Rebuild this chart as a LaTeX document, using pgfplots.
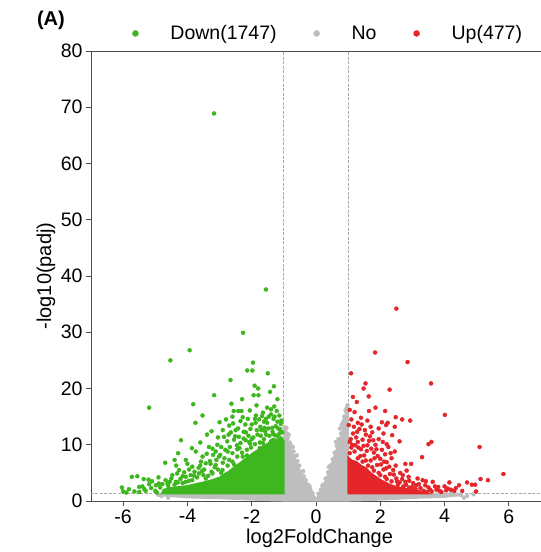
\documentclass[border=0pt]{standalone}
\usepackage{pgfplots}
\pgfplotsset{compat=1.18}
\usepackage{fontspec}
\setmainfont{Liberation Sans}
\definecolor{dgreen}{RGB}{62,182,30}
\definecolor{ured}{RGB}{228,38,42}
\definecolor{ngray}{RGB}{190,190,190}
\definecolor{lgray}{RGB}{170,170,170}
\pgfplotsset{dotleg/.style={legend image code/.code={\path[draw=none,fill=none] (-3pt,-3pt) rectangle (35pt,3pt); \draw[##1] plot coordinates {(0pt,0pt)};}}}
\begin{document}
\begin{tikzpicture}
\path[use as bounding box] (-91pt,-51pt) rectangle (450pt,501pt);
\begin{axis}[
  at={(0pt,0pt)}, anchor=south west,
  scale only axis, width=450pt, height=450pt,
  xmin=-7, xmax=7, ymin=0, ymax=80,
  xtick={-6,-4,-2,0,2,4,6}, ytick={0,10,20,30,40,50,60,70,80},
  tick pos=left, tick align=outside, major tick length=5pt,
  axis line style={draw=black!70, line width=0.8pt},
  every tick/.style={black!70, line width=0.8pt},
  tick label style={font=\fontsize{19.5}{20}\selectfont, black},
  /pgf/number format/assume math mode=true,
  xlabel={log2FoldChange}, ylabel={-log10(padj)},
  label style={font=\fontsize{20}{22}\selectfont},
  xlabel style={at={(axis description cs:0.508,-0.082)}, anchor=center},
  ylabel style={at={(axis description cs:-0.1,0.5)}, anchor=center},
  legend columns=3,
  legend style={draw=none, fill=none, at={(axis description cs:0.525,1.039)}, anchor=center,
    font=\fontsize{19.5}{20}\selectfont, column sep=0pt, nodes={inner sep=0pt},
    /tikz/every even column/.append style={column sep=37pt}},
  clip mode=individual,
]
\addlegendimage{only marks, mark=*, mark size=3pt, color=dgreen, dotleg}
\addlegendentry{Down(1747)}
\addlegendimage{only marks, mark=*, mark size=3pt, color=ngray, dotleg}
\addlegendentry{No}
\addlegendimage{only marks, mark=*, mark size=3pt, color=ured, dotleg}
\addlegendentry{Up(477)}

% threshold lines
\addplot[lgray, line width=0.8pt, dash pattern=on 3pt off 1.5pt, forget plot] coordinates {(-1,0) (-1,80)};
\addplot[lgray, line width=0.8pt, dash pattern=on 3pt off 1.5pt, forget plot] coordinates {(1,0) (1,80)};
\addplot[lgray, line width=0.8pt, dash pattern=on 3pt off 1.5pt, forget plot] coordinates {(-7,1.3) (7,1.3)};

% gray dense cloud
\addplot[fill=ngray, draw=ngray, line width=1.5pt, mark=none, forget plot] coordinates {
(-4.7,1.35) (-1.0,1.35) (-1.0,12.6) (-0.95,12.2) (-0.9,11.0) (-0.83,10.0) (-0.75,8.8) (-0.66,7.6)
(-0.58,6.5) (-0.5,5.4) (-0.42,4.5) (-0.34,3.6) (-0.26,2.8) (-0.18,2.0) (-0.1,1.3) (-0.03,0.7)
(0,0.4) (0.04,0.7) (0.1,1.3) (0.18,2.2) (0.26,3.2) (0.34,4.3) (0.42,5.6) (0.5,6.9) (0.58,8.2)
(0.66,9.6) (0.74,11.0) (0.82,12.5) (0.9,14.0) (0.96,15.5) (1.0,16.2) (1.0,1.35) (4.4,1.35)
(4.5,1.0) (4.0,0.7) (3.0,0.5) (2.0,0.2) (1.2,0.05) (0,0) (-1.2,0.05) (-2.0,0.2) (-3.0,0.45)
(-4.0,0.6) (-4.7,0.9)} -- cycle;
\addplot[only marks, mark=*, mark size=2pt, color=ngray, forget plot] coordinates {
(-0.98,13.1) (-0.95,12.3) (-0.9,11.9) (-0.88,11.2) (-0.82,10.4) (-0.78,9.9) (-0.7,8.8) (-0.65,8.0)
(-0.58,7.1) (-0.52,6.3) (-0.45,5.2) (-0.38,4.4) (-0.32,3.7) (-0.25,2.9) (-0.18,2.1) (-0.12,1.5)
(0.08,1.3) (0.15,2.0) (0.22,2.9) (0.3,4.0) (0.38,5.1) (0.45,6.3) (0.52,7.4) (0.58,8.6) (0.65,9.8)
(0.7,11.0) (0.78,12.0) (0.84,13.4) (0.9,14.5) (0.95,15.7) (0.98,17.0) (0.92,16.2) (0.88,15.0)
(0.75,12.9) (-0.96,12.8) (-4.8,0.9) (-4.9,1.1) (-4.5,1.2) (4.5,1.1) (4.7,0.9) (4.9,1.2)
(-0.92,13.0) (-0.85,11.8) (0.96,16.6) (0.86,14.2) (-0.6,8.1) (-0.4,5.3) (0.62,10.5) (0.4,6.0)
(-0.72,9.6) (0.8,13.6) (-0.2,2.6) (0.2,2.7) (-4.3,1.4) (4.2,1.45) (-4.6,0.6) (4.6,0.6)};

% green dense cloud
\addplot[fill=dgreen, draw=dgreen, line width=1.5pt, mark=none, forget plot] coordinates {
(-1.0,1.3) (-1.0,10.6) (-1.08,11.4) (-1.2,10.9) (-1.35,11.1) (-1.5,10.2) (-1.65,9.8) (-1.8,9.1)
(-1.95,8.6) (-2.1,7.9) (-2.25,7.3) (-2.4,6.6) (-2.55,6.0) (-2.7,5.3) (-2.85,4.8) (-3.0,4.2)
(-3.2,3.8) (-3.45,3.4) (-3.7,3.1) (-4.0,2.7) (-4.3,2.5) (-4.6,2.3) (-4.75,2.0) (-4.8,1.3)} -- cycle;
\addplot[only marks, mark=*, mark size=2pt, color=dgreen, forget plot] coordinates {
(-3.17,68.9) (-1.56,37.6) (-2.27,29.9) (-3.93,26.8) (-4.53,25.0) (-1.96,24.6) (-2.14,23.2)
(-1.98,23.2) (-1.50,22.7) (-2.66,21.5) (-1.91,20.5) (-1.80,20.0) (-1.31,20.4) (-1.43,19.4)
(-3.17,18.8) (-1.94,18.8) (-1.79,18.8) (-1.20,18.1) (-2.30,18.1) (-5.19,16.6) (-3.82,17.2)
(-2.63,17.3) (-1.52,16.6) (-1.40,16.3) (-2.56,16.0) (-2.42,16.0) (-2.32,16.0) (-3.53,15.2)
(-3.75,13.9) (-1.09,13.7) (-3.39,11.8) (-4.20,10.8) (-4.29,8.5) (-4.69,6.8) (-3.86,9.4)
(-5.73,4.3) (-5.56,4.4) (-6.04,2.4) (-5.82,2.1) (-5.36,3.9) (-5.21,3.8) (-5.10,3.5)
(-2.06,16.1) (-1.87,15.2) (-1.65,15.7) (-1.77,14.5) (-1.56,14.6) (-1.40,15.4) (-1.29,15.0)
(-1.14,15.2) (-2.80,14.5) (-2.60,15.0) (-2.35,14.2) (-2.20,13.6) (-2.04,12.8) (-1.88,13.9)
(-1.73,13.2) (-1.52,13.9) (-1.36,13.0) (-1.20,14.1) (-2.50,12.6) (-2.86,11.4) (-2.65,12.2)
(-2.40,11.4) (-2.19,10.8) (-3.07,10.0) (-2.76,10.6) (-3.12,8.8) (-3.33,9.6) (-3.53,7.9)
(-3.74,8.8) (-4.05,7.3) (-3.43,6.7) (-3.12,6.4) (-3.85,6.1) (-3.64,4.9) (-4.26,5.5) (-4.47,4.6)
(-4.05,4.3) (-4.68,3.7) (-4.89,3.1) (-4.36,3.4) (-3.85,3.7) (-3.43,4.0) (-3.22,4.9) (-2.91,5.5)
(-2.70,7.3) (-2.60,8.5) (-2.38,9.4) (-2.28,7.9) (-3.02,7.9) (-5.19,3.0) (-4.98,2.8) (-5.50,2.5)
(-5.34,2.1) (-5.13,2.3)
(-1.05,12.2) (-1.15,11.9) (-1.28,11.7) (-1.45,11.6) (-1.62,11.0) (-1.75,10.4) (-1.9,10.1)
(-2.02,9.5) (-2.15,9.1) (-2.3,8.6) (-2.45,7.9) (-2.6,7.0) (-2.75,6.3) (-2.9,6.8) (-3.05,5.6)
(-3.25,5.2) (-3.5,4.6) (-3.7,4.2) (-3.95,3.6) (-4.15,3.2) (-4.4,2.9) (-4.6,2.7) (-4.85,2.4)
(-5.0,1.8) (-4.95,1.5) (-1.12,12.8) (-1.35,12.3) (-1.58,12.4) (-1.82,11.8) (-1.7,12.6)
(-2.1,11.6) (-2.35,10.3) (-2.55,10.9) (-2.95,9.6) (-3.2,8.2) (-3.3,7.1) (-3.6,6.3) (-4.1,5.1)
(-4.35,6.3) (-3.95,5.6) (-2.0,11.0) (-1.25,13.3) (-1.6,13.0) (-2.25,12.3) (-2.75,8.8)
(-3.15,6.0) (-4.55,3.4) (-5.3,1.8) (-5.65,1.7) (-4.7,1.6)
(-1.08,14.3) (-1.18,12.9) (-1.22,16.0) (-1.32,14.6) (-1.33,11.9) (-1.48,12.9) (-1.47,15.0)
(-1.55,11.8) (-1.62,14.1) (-1.68,15.1) (-1.72,11.6) (-1.84,12.6) (-1.9,14.6) (-1.95,11.3)
(-2.0,13.6) (-2.08,10.5) (-2.12,14.6) (-2.18,12.2) (-2.25,11.1) (-2.28,14.9) (-2.42,12.9)
(-2.46,9.9) (-2.52,11.5) (-2.58,13.8) (-2.68,9.6) (-2.72,11.8) (-2.82,9.1) (-2.9,12.6)
(-2.98,8.2) (-3.05,11.3) (-3.1,7.3) (-3.22,9.3) (-3.28,6.6) (-3.4,8.4) (-3.48,5.6) (-3.58,7.0)
(-3.65,5.9) (-3.78,5.2) (-3.9,4.6) (-4.0,6.6) (-4.15,4.4) (-4.22,3.9) (-4.32,4.9) (-4.5,4.0)
(-4.62,3.1) (-4.78,3.0) (-4.05,3.4) (-3.35,4.5) (-2.95,5.0) (-2.55,6.5) (-2.15,8.1) (-1.75,9.4)
(-1.4,10.6) (-1.2,11.5) (-1.1,12.4) (-2.85,7.6) (-2.45,9.2) (-2.05,10.2) (-1.65,10.3)
(-3.55,5.3) (-3.8,4.5) (-4.3,3.3) (-1.3,16.8) (-1.85,17.0) (-2.7,13.4) (-3.0,14.0) (-3.25,12.4)
(-3.6,10.4) (-4.4,7.3) (-4.9,4.2) (-5.4,2.6) (-5.9,1.5) (-5.5,1.6) (-6.0,1.7)};

% red dense cloud
\addplot[fill=ured, draw=ured, line width=1.5pt, mark=none, forget plot] coordinates {
(1.0,1.3) (1.0,7.8) (1.12,7.2) (1.25,7.0) (1.4,6.3) (1.55,5.9) (1.7,5.0) (1.85,4.4) (2.0,3.8)
(2.2,3.2) (2.4,2.7) (2.7,2.3) (3.0,2.0) (3.3,1.7) (3.5,1.3)} -- cycle;
\addplot[only marks, mark=*, mark size=2pt, color=ured, forget plot] coordinates {
(2.50,34.2) (1.84,26.4) (2.85,24.7) (3.58,20.9) (1.09,22.7) (1.54,20.9) (1.48,20.0) (2.29,19.8)
(1.64,18.6) (1.27,17.6) (1.85,16.6) (2.15,16.0) (4.01,15.3) (2.48,14.9) (2.68,14.5) (2.93,14.3)
(2.23,13.9) (2.18,13.5) (2.45,13.2) (2.37,11.7) (3.59,10.5) (3.50,10.1) (5.09,9.6) (2.20,10.1)
(3.30,7.8) (2.78,6.6) (2.96,6.6) (5.83,4.8) (5.12,3.9) (5.35,3.7) (4.70,3.3) (4.85,2.9) (4.95,2.9)
(4.15,3.3) (4.45,2.8) (4.98,1.7) (4.10,2.2) (3.63,3.4) (3.42,3.5) (3.32,3.7) (3.16,4.0) (2.88,4.3)
(2.78,3.4) (3.75,2.0) (3.85,1.8) (4.05,1.9) (4.2,2.0) (4.3,1.8)
(1.05,8.5) (1.1,9.5) (1.2,8.8) (1.3,10.5) (1.4,9.2) (1.5,8.1) (1.6,9.9) (1.7,7.2) (1.8,8.6)
(1.9,6.4) (2.0,7.5) (2.1,5.6) (2.2,6.9) (2.3,4.8) (2.4,5.5) (2.5,4.0) (2.6,3.3) (2.7,4.6)
(2.8,2.9) (2.9,3.6) (3.0,2.5) (3.1,2.1) (3.2,3.0) (3.35,1.8) (3.5,2.4) (3.6,1.7) (3.8,2.5)
(3.9,1.6) (1.15,12.0) (1.25,11.3) (1.35,12.8) (1.45,10.9) (1.55,11.8) (1.65,10.7) (1.75,12.2)
(1.85,10.0) (1.95,11.0) (2.05,9.1) (2.15,8.3) (2.25,9.6) (2.35,7.6) (2.45,8.8) (1.1,14.5)
(1.2,15.8) (1.3,13.9) (1.4,14.8) (1.6,14.3) (1.7,13.2) (1.95,12.9) (2.05,14.0) (1.05,16.2)
(1.15,18.5) (1.08,11.0) (1.22,9.9) (1.38,8.0) (1.55,7.2) (1.75,6.0) (1.95,5.0) (2.15,4.3)
(2.35,3.5) (2.55,2.9) (1.02,13.5) (1.65,16.0) (2.6,10.6) (2.1,12.0)
(1.05,10.5) (1.12,10.0) (1.18,13.2) (1.28,12.3) (1.32,9.5) (1.42,13.6) (1.48,9.8) (1.52,12.6)
(1.58,8.9) (1.68,11.5) (1.72,9.3) (1.78,10.8) (1.82,7.6) (1.88,9.2) (1.92,8.0) (2.02,6.5)
(2.08,10.5) (2.12,7.0) (2.18,5.8) (2.28,6.1) (2.32,8.5) (2.42,4.7) (2.48,6.3) (2.52,3.5)
(2.62,5.0) (2.68,3.9) (2.72,2.6) (2.82,5.4) (2.9,2.4) (3.02,3.2) (3.12,2.8) (3.25,2.3)
(3.4,2.8) (3.55,2.0) (3.7,2.6) (4.0,2.6) (4.35,2.3) (4.55,1.8) (3.45,1.6) (1.12,6.8) (1.3,7.6)
(1.45,7.0) (1.62,6.3) (1.8,5.4) (2.0,4.6) (2.2,3.9)};

\node[font=\bfseries\fontsize{20}{22}\selectfont, anchor=center] at (axis description cs:-0.089,1.068) {(A)};
\end{axis}
\end{tikzpicture}
\end{document}
